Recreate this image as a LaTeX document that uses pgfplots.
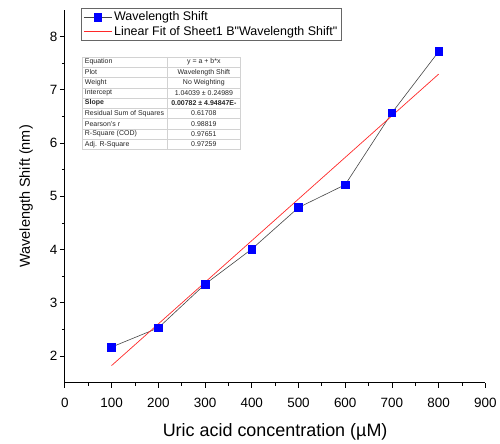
\documentclass[border=0pt]{standalone}
\usepackage{pgfplots}
\pgfplotsset{compat=1.18}
\usepackage{fontspec}
\setmainfont{Liberation Sans}
\newfontfamily\plainfont{Liberation Sans}

\definecolor{ptblue}{RGB}{0,0,255}
\definecolor{fitred}{RGB}{255,40,40}
\definecolor{linegray}{RGB}{70,70,70}
\definecolor{tabgray}{RGB}{210,210,210}

\begin{document}
\begin{tikzpicture}
\begin{axis}[
  scale only axis, width=422pt, height=374pt,
  xmin=0, xmax=900, ymin=1.5, ymax=8.5,
  axis x line*=bottom, axis y line*=left,
  axis line style={black, line width=0.8pt},
  xtick={0,100,...,900}, ytick={2,3,...,8},
  minor x tick num=1, minor y tick num=1,
  tick align=outside, major tick length=5pt, minor tick length=3pt,
  tick style={black, line width=0.8pt},
  /pgf/number format/assume math mode=true,
  tick label style={font=\fontsize{13.5}{15}\selectfont},
  xticklabel style={yshift=-7pt},
  yticklabel style={xshift=1pt},
  xlabel={Uric acid concentration (µM)},
  ylabel={Wavelength Shift (nm)},
  xlabel style={font=\fontsize{18}{20}\selectfont,
    at={(axis description cs:0.5,-0.131)}, anchor=center},
  ylabel style={font=\fontsize{14.5}{16}\selectfont,
    at={(axis description cs:-0.092,0.5)}, anchor=center},
  legend style={name=leg, draw=none, at={(axis description cs:0.0405,1.005)}, anchor=north west,
    font=\plainfont\fontsize{12.5}{14}\selectfont,
    legend cell align=left, inner sep=1.5pt, row sep=0pt},
  legend image code/.code={\draw[mark repeat=2, mark phase=2]
    plot coordinates {(0pt,0pt) (14pt,0pt) (28pt,0pt)};},
  clip=false,
]
\coordinate (ll) at (rel axis cs:0,0);

\addplot[color=linegray, line width=0.6pt, mark=square*, mark size=3.8pt,
  mark options={draw=ptblue, fill=ptblue, solid}]
  coordinates {(100,2.17) (200,2.53) (300,3.35) (400,4.01)
               (500,4.79) (600,5.22) (700,6.57) (800,7.72)};
\addlegendentry{Wavelength Shift}

\addplot[color=fitred, line width=0.7pt]
  coordinates {(100,1.82239) (800,7.29639)};
\addlegendentry{Linear Fit of Sheet1 B"Wavelength Shift"}
\end{axis}

% legend frame
\draw[black!60, line width=0.8pt] (leg.south west) rectangle (leg.north east);

% fit result table, in image pixel coordinates
\begin{scope}[shift={([shift={(-65pt,384pt)}]ll)}, x=1pt, y=-1pt]
  \path (0,0) rectangle (500,444);
  \fill[white] (83,57) rectangle (241,150);
  \foreach \i in {1,...,8} \draw[tabgray, line width=0.4pt] (83,57+10.33*\i) -- (241,57+10.33*\i);
  \draw[tabgray, line width=0.4pt] (168,57) -- (168,150);
  \draw[tabgray, line width=0.6pt] (83,57) rectangle (241,150);
  \foreach \a/\b [count=\i from 0] in {
      Equation/{y = a + b*x},
      Plot/Wavelength Shift,
      Weight/No Weighting,
      Intercept/{1.04039 ± 0.24989},
      \textbf{Slope}/\textbf{0.00782 ± 4.94847E-},
      Residual Sum of Squares/0.61708,
      Pearson's r/0.98819,
      R-Square (COD)/0.97651,
      Adj. R-Square/0.97259} {
    \node[anchor=west, inner sep=0, font=\fontsize{7}{8}\selectfont, text=black!85]
      at (85,57+10.33*\i+5.17) {\a};
    \node[anchor=center, inner sep=0, font=\fontsize{7}{8}\selectfont, text=black!85]
      at (204.5,57+10.33*\i+5.17) {\b};
  }
\end{scope}
\end{tikzpicture}
\end{document}
